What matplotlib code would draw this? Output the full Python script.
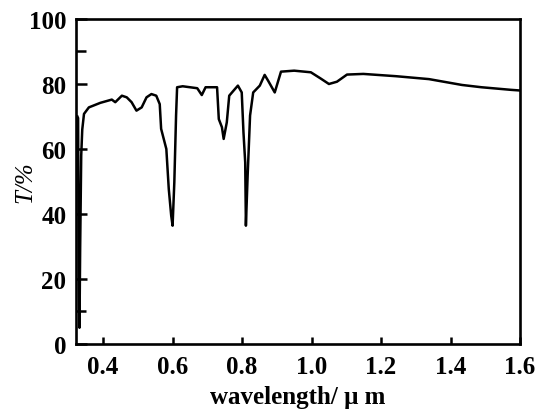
import matplotlib
matplotlib.use("Agg")
import matplotlib.pyplot as plt

# transmission spectrum
wavelength = [0.326, 0.328, 0.330, 0.332, 0.334, 0.337, 0.340, 0.345, 0.359,
              0.392, 0.425, 0.435, 0.454, 0.468, 0.482, 0.496, 0.511, 0.525,
              0.539, 0.553, 0.563, 0.567, 0.582, 0.589, 0.596, 0.600, 0.605,
              0.610, 0.613, 0.629, 0.671, 0.684, 0.695, 0.728, 0.733, 0.742,
              0.747, 0.756, 0.763, 0.775, 0.788, 0.799, 0.804, 0.809, 0.811,
              0.816, 0.823, 0.832, 0.851, 0.865, 0.875, 0.894, 0.912, 0.950,
              0.998, 1.026, 1.050, 1.073, 1.102, 1.149, 1.243, 1.338, 1.433,
              1.489, 1.574, 1.600]
transmit = [70.0, 69.5, 20.0, 5.0, 30.0, 58.0, 66.0, 70.8, 72.8,
            74.2, 75.2, 74.4, 76.4, 75.9, 74.4, 71.8, 72.8, 75.9,
            76.9, 76.4, 73.8, 66.2, 60.0, 47.7, 39.5, 36.4, 49.8,
            70.3, 79.0, 79.3, 78.7, 76.6, 79.0, 79.0, 69.2, 66.7,
            63.1, 68.2, 76.4, 77.9, 79.5, 77.4, 65.1, 55.9, 36.4,
            51.8, 70.3, 77.4, 79.5, 82.8, 81.0, 77.4, 83.8, 84.1,
            83.6, 81.7, 80.0, 80.7, 82.9, 83.1, 82.4, 81.5, 79.7,
            79.0, 78.2, 78.0]

x_ticks = [0.4, 0.6, 0.8, 1.0, 1.2, 1.4, 1.6]
x_ticklabels = ["0.4", "0.6", "0.8", "1.0", "1.2", "1.4", "1.6"]
y_ticks = [0, 20, 40, 60, 80, 100]
y_minor = [10, 90]

plt.rcParams.update({
    "font.family": ["Liberation Serif", "DejaVu Serif"],
    "font.weight": "bold",
})

fig = plt.figure(figsize=(5.36, 4.14), dpi=100)
ax = fig.add_axes([0.1418, 0.1667, 0.8284, 0.785])

ax.plot(wavelength, transmit, color="black", linewidth=1.8)

ax.set_xlim(0.322, 1.6)
ax.set_ylim(0, 100)
ax.set_xticks(x_ticks)
ax.set_xticklabels(x_ticklabels)
ax.set_yticks(y_ticks)
ax.set_yticks(y_minor, minor=True)

for s in ax.spines.values():
    s.set_linewidth(1.9)

ax.tick_params(axis="x", direction="in", length=5, width=1.8, pad=8,
               labelsize=18)
ax.tick_params(axis="y", direction="in", length=8, width=1.8, pad=7,
               labelsize=18)
ax.tick_params(axis="y", which="minor", direction="in", length=7, width=1.8)

ax.set_xlabel("wavelength/ μ m", fontsize=18, fontweight="bold", labelpad=5)
ax.set_ylabel("T/%", fontsize=18, fontstyle="italic")
ax.yaxis.set_label_coords(-0.09, 0.5)

fig.savefig("out.png", dpi=100)
